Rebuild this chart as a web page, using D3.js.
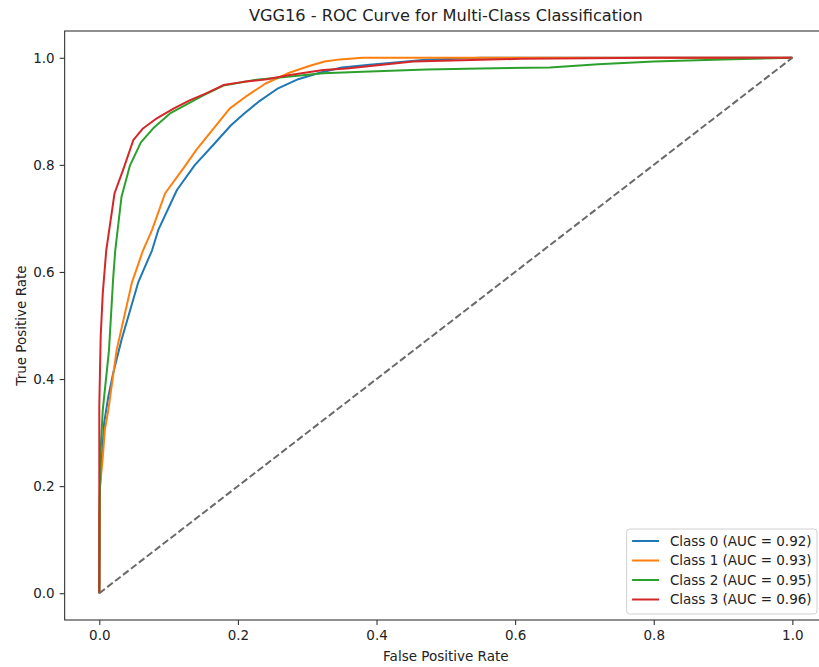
<!doctype html>
<html>
<head>
<style>
  body { margin: 0; background: #fff; }
  text { font-family: "DejaVu Sans", sans-serif; fill: #222; }
</style>
<script src="https://d3js.org/d3.v7.min.js"></script>
</head>
<body>
<svg width="819" height="667" id="chart"></svg>
<script>
// ROC points
var class0Fpr = [0, 0.001, 0.007, 0.013, 0.02, 0.032, 0.056, 0.076, 0.085, 0.112, 0.138, 0.165, 0.19, 0.21, 0.23, 0.258, 0.287, 0.318, 0.35, 0.39, 0.415, 0.467, 0.55, 1.0];
var class0Tpr = [0, 0.2, 0.318, 0.367, 0.411, 0.473, 0.58, 0.64, 0.678, 0.753, 0.80, 0.838, 0.874, 0.897, 0.918, 0.943, 0.96, 0.972, 0.982, 0.987, 0.99, 0.996, 1.0, 1.0];

var class1Fpr = [0, 0.001, 0.005, 0.008, 0.013, 0.025, 0.047, 0.063, 0.076, 0.095, 0.121, 0.14, 0.163, 0.188, 0.213, 0.24, 0.272, 0.304, 0.325, 0.347, 0.38, 1.0];
var class1Tpr = [0, 0.2, 0.254, 0.305, 0.342, 0.454, 0.58, 0.64, 0.678, 0.747, 0.793, 0.828, 0.865, 0.905, 0.929, 0.952, 0.971, 0.985, 0.993, 0.997, 1.0, 1.0];

var class2Fpr = [0, 0.0003, 0.002, 0.005, 0.014, 0.02, 0.023, 0.032, 0.044, 0.06, 0.079, 0.102, 0.126, 0.15, 0.179, 0.227, 0.275, 0.323, 0.38, 0.472, 0.55, 0.65, 0.72, 0.8, 0.9, 1.0];
var class2Tpr = [0, 0.15, 0.268, 0.342, 0.454, 0.588, 0.64, 0.74, 0.798, 0.842, 0.87, 0.896, 0.913, 0.93, 0.948, 0.959, 0.965, 0.971, 0.974, 0.978, 0.98, 0.982, 0.988, 0.993, 0.997, 1.0];

var class3Fpr = [0, 0, 0, 0.002, 0.005, 0.01, 0.022, 0.035, 0.049, 0.063, 0.083, 0.107, 0.131, 0.155, 0.179, 0.208, 0.242, 0.275, 0.323, 0.357, 0.453, 0.607, 0.8, 1.0];
var class3Tpr = [0, 0.1, 0.35, 0.48, 0.56, 0.64, 0.747, 0.793, 0.846, 0.868, 0.887, 0.905, 0.921, 0.934, 0.949, 0.955, 0.96, 0.968, 0.977, 0.98, 0.993, 0.998, 1.0, 1.0];

var labels = ["Class 0 (AUC = 0.92)", "Class 1 (AUC = 0.93)", "Class 2 (AUC = 0.95)", "Class 3 (AUC = 0.96)"];
var colors = ["#1f77b4", "#ff7f0e", "#2ca02c", "#d62728"];
var tickValues = [0, 0.2, 0.4, 0.6, 0.8, 1.0];

var series = [
  d3.zip(class0Fpr, class0Tpr),
  d3.zip(class1Fpr, class1Tpr),
  d3.zip(class2Fpr, class2Tpr),
  d3.zip(class3Fpr, class3Tpr)
];

var svg = d3.select("#chart"),
    plotL = 64.65, plotR = 827, plotT = 31, plotB = 620;

var x = d3.scaleLinear().domain([-0.05, 1.05]).range([plotL, plotR]),
    y = d3.scaleLinear().domain([-0.05, 1.05]).range([plotB, plotT]);

// axes
svg.append("g")
   .attr("transform", "translate(0," + plotB + ")")
   .call(d3.axisBottom(x).tickValues(tickValues).tickFormat(d3.format(".1f")).tickSize(5).tickPadding(5).tickSizeOuter(0))
   .call(function(g) { g.select(".domain").remove(); })
   .selectAll("text").style("font-size", "13.5px").style("font-family", "DejaVu Sans");

svg.append("g")
   .attr("transform", "translate(" + plotL + ",0)")
   .call(d3.axisLeft(y).tickValues(tickValues).tickFormat(d3.format(".1f")).tickSize(5).tickPadding(5).tickSizeOuter(0))
   .call(function(g) { g.select(".domain").remove(); })
   .selectAll("text").style("font-size", "13.5px").style("font-family", "DejaVu Sans");

svg.selectAll(".tick line").attr("stroke", "#333").attr("stroke-width", 1.1);

var line = d3.line()
    .x(function(d) { return x(d[0]); })
    .y(function(d) { return y(d[1]); });

series.forEach(function(s, i) {
  svg.append("path")
     .datum(s)
     .attr("fill", "none")
     .attr("stroke", colors[i])
     .attr("stroke-width", 2)
     .attr("stroke-linejoin", "round")
     .attr("d", line);
});

// chance line
svg.append("path")
   .datum([[0, 0], [1, 1]])
   .attr("fill", "none")
   .attr("stroke", "#6a6a6a")
   .attr("stroke-width", 2)
   .attr("stroke-dasharray", "7,3")
   .attr("d", line);

// frame
svg.append("rect")
   .attr("x", plotL).attr("y", plotT)
   .attr("width", plotR - plotL).attr("height", plotB - plotT)
   .attr("fill", "none")
   .attr("stroke", "#333")
   .attr("stroke-width", 1.1);

// titles
svg.append("text")
   .attr("x", (plotL + plotR) / 2).attr("y", 21)
   .attr("text-anchor", "middle")
   .style("font-size", "16.2px")
   .text("VGG16 - ROC Curve for Multi-Class Classification");

svg.append("text")
   .attr("x", (plotL + plotR) / 2).attr("y", 661)
   .attr("text-anchor", "middle")
   .style("font-size", "13.5px")
   .text("False Positive Rate");

svg.append("text")
   .attr("transform", "translate(26," + (plotT + plotB) / 2 + ") rotate(-90)")
   .attr("text-anchor", "middle")
   .style("font-size", "13.5px")
   .text("True Positive Rate");

// legend
var legRight = 817, legTop = 529, rowH = 19.5;
var leg = svg.append("g");
var box = leg.append("rect")
   .attr("fill", "#fff").attr("fill-opacity", 0.8)
   .attr("stroke", "#d0d0d0").attr("rx", 3);

var texts = labels.map(function(l, i) {
  return leg.append("text")
     .attr("y", legTop + 12 + i * rowH)
     .attr("dy", "0.35em")
     .style("font-size", "13.5px")
     .text(l);
});
var textW = d3.max(texts, function(t) { return t.node().getComputedTextLength(); });
var legLeft = legRight - (5.4 + 27 + 10.8 + textW + 5.4);
box.attr("x", legLeft).attr("y", legTop)
   .attr("width", legRight - legLeft).attr("height", 85);
texts.forEach(function(t, i) {
  t.attr("x", legLeft + 5.4 + 27 + 10.8);
  leg.append("line")
     .attr("x1", legLeft + 5.4).attr("x2", legLeft + 5.4 + 27)
     .attr("y1", legTop + 12 + i * rowH).attr("y2", legTop + 12 + i * rowH)
     .attr("stroke", colors[i]).attr("stroke-width", 2);
});
</script>
</body>
</html>
